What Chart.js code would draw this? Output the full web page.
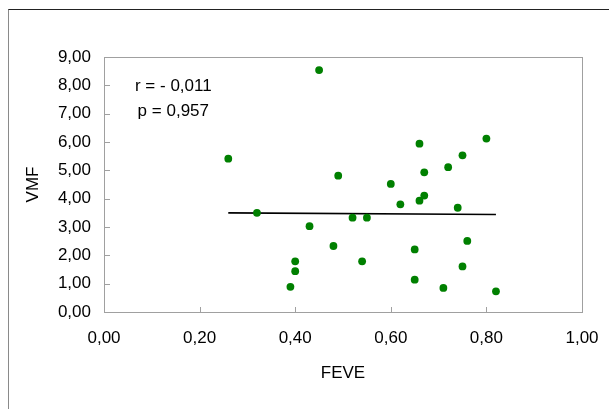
<!DOCTYPE html>
<html>
<head>
<meta charset="utf-8">
<script src="https://cdn.jsdelivr.net/npm/chart.js@4/dist/chart.umd.min.js"></script>
<style>
  html, body { margin: 0; padding: 0; background: #fff; }
  #wrap { position: relative; width: 609px; height: 409px; overflow: hidden; }
  #frame { position: absolute; left: 8px; top: 9px; width: 700px; height: 500px;
           border-top: 1px solid #222; border-left: 1px solid #8a8a8a; pointer-events: none; }
  canvas { position: absolute; left: 0; top: 0; }
</style>
</head>
<body>
<div id="wrap">
  <canvas id="c" width="609" height="409"></canvas>
  <div id="frame"></div>
</div>
<script>
// Data
const feve = [0.45, 0.26, 0.49, 0.32, 0.43, 0.52, 0.55, 0.48, 0.40, 0.54, 0.40, 0.39,
              0.66, 0.80, 0.75, 0.67, 0.72, 0.60, 0.62, 0.66, 0.67, 0.74, 0.76, 0.65,
              0.75, 0.65, 0.71, 0.82];
const vmf  = [8.54, 5.41, 4.81, 3.50, 3.03, 3.33, 3.33, 2.33, 1.79, 1.79, 1.44, 0.89,
              5.94, 6.12, 5.53, 4.93, 5.11, 4.52, 3.80, 3.93, 4.11, 3.68, 2.51, 2.21,
              1.61, 1.14, 0.85, 0.73];
const trendX = [0.26, 0.82];
const trendY = [3.50, 3.44];
const statLabels = ['r = - 0,011', 'p = 0,957'];
const statX = 0.145;
const statY = [7.98, 7.09];
const xTitle = 'FEVE';
const yTitle = 'VMF';

const FONT = 'Liberation Sans, Arial, sans-serif';
const fmt = v => v.toFixed(2).replace('.', ',');

const framePlugin = {
  id: 'framePlugin',
  beforeDatasetsDraw(chart) {
    const {ctx, chartArea: a, scales} = chart;
    ctx.save();
    ctx.strokeStyle = '#a0a0a0';
    ctx.lineWidth = 1;
    ctx.strokeRect(Math.round(a.left) + 0.5, Math.round(a.top) + 0.5,
                   Math.round(a.right - a.left), Math.round(a.bottom - a.top));
    ctx.beginPath();
    scales.x.ticks.forEach(t => {
      if (t.value <= scales.x.min || t.value >= scales.x.max) return;
      const px = Math.round(scales.x.getPixelForValue(t.value)) + 0.5;
      ctx.moveTo(px, a.bottom); ctx.lineTo(px, a.bottom - 5);
    });
    scales.y.ticks.forEach(t => {
      if (t.value <= scales.y.min || t.value >= scales.y.max) return;
      const py = Math.round(scales.y.getPixelForValue(t.value)) + 0.5;
      ctx.moveTo(a.left, py); ctx.lineTo(a.left + 6, py);
    });
    ctx.stroke();
    ctx.restore();
  },
  afterDatasetsDraw(chart) {
    const {ctx, scales} = chart;
    ctx.save();
    ctx.fillStyle = '#000';
    ctx.font = '17px ' + FONT;
    ctx.textAlign = 'center';
    ctx.textBaseline = 'middle';
    statLabels.forEach((s, i) => {
      ctx.fillText(s, scales.x.getPixelForValue(statX), scales.y.getPixelForValue(statY[i]));
    });
    ctx.restore();
  }
};

new Chart(document.getElementById('c'), {
  type: 'scatter',
  data: {
    datasets: [
      {
        label: 'VMF',
        data: feve.map((x, i) => ({x, y: vmf[i]})),
        backgroundColor: '#008000',
        borderColor: '#008000',
        borderWidth: 0,
        pointRadius: 3.9,
        pointHoverRadius: 3.9
      },
      {
        type: 'line',
        label: 'trend',
        data: trendX.map((x, i) => ({x, y: trendY[i]})),
        borderColor: '#000',
        borderWidth: 1.6,
        pointRadius: 0,
        fill: false
      }
    ]
  },
  options: {
    responsive: false,
    animation: false,
    layout: { padding: { left: 0, top: 57, right: 27, bottom: 0 } },
    plugins: { legend: { display: false }, tooltip: { enabled: false } },
    scales: {
      x: {
        type: 'linear', min: 0, max: 1,
        afterFit: s => { s.height = 97; s.paddingLeft = 0; s.paddingRight = 0; },
        grid: { display: false, drawTicks: false },
        border: { display: false },
        ticks: { stepSize: 0.2, padding: 16, color: '#000', font: { family: FONT, size: 17 },
                 maxRotation: 0, callback: v => fmt(v) },
        title: { display: true, text: xTitle, color: '#000', font: { family: FONT, size: 17 },
                 padding: { top: 0, bottom: 25 } }
      },
      y: {
        type: 'linear', min: 0, max: 9,
        afterFit: s => { s.width = 104; s.paddingTop = 0; s.paddingBottom = 0; },
        grid: { display: false, drawTicks: false },
        border: { display: false },
        ticks: { stepSize: 1, padding: 13, color: '#000', font: { family: FONT, size: 17 },
                 callback: v => fmt(v) },
        title: { display: true, text: yTitle, color: '#000', font: { family: FONT, size: 17 },
                 padding: { top: 23, bottom: 0 } }
      }
    }
  },
  plugins: [framePlugin]
});
</script>
</body>
</html>
